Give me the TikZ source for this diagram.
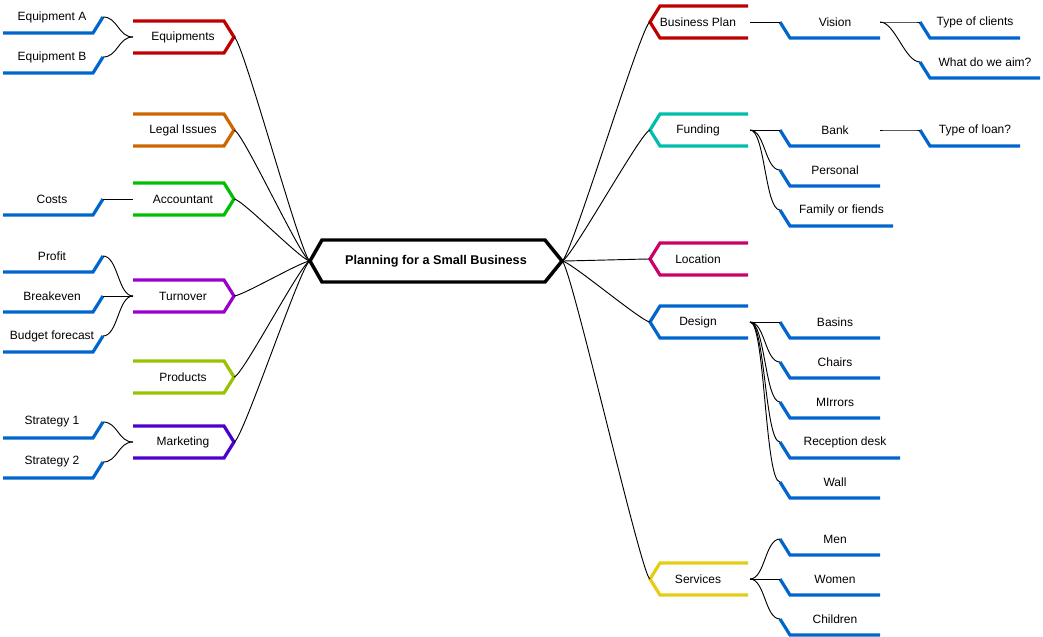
\documentclass[tikz,border=0pt]{standalone}
\usepackage{fontspec}
\setmainfont{Liberation Sans}
\usetikzlibrary{arrows}
\definecolor{cRed}{RGB}{192,0,0}
\definecolor{cOrange}{RGB}{204,102,0}
\definecolor{cGreen}{RGB}{0,190,0}
\definecolor{cPurple}{RGB}{153,0,204}
\definecolor{cLime}{RGB}{153,194,0}
\definecolor{cIndigo}{RGB}{76,0,204}
\definecolor{cTeal}{RGB}{0,190,170}
\definecolor{cMagenta}{RGB}{204,0,102}
\definecolor{cBlue}{RGB}{0,102,204}
\definecolor{cYellow}{RGB}{230,204,20}
\tikzstyle{lbl} = [inner sep=1pt, font=\fontsize{9}{10}\selectfont]
\tikzstyle{cat} = [line width=2.4pt]
\tikzstyle{leaf} = [line width=2.4pt, cBlue]
\tikzstyle{link} = [line width=0.7pt]
% left category: name, y, colour, text
\newcommand{\lcat}[4]{%
  \draw[cat, #3] (133,#2-16) -- (224,#2-16) -- (234,#2) -- (224,#2+16) -- (133,#2+16);
  \node[lbl] (#1) at (183,#2) {#4};
  \coordinate (#1-in) at (234,#2); \coordinate (#1-out) at (133,#2);}
% right category: name, y, colour, text
\newcommand{\rcat}[4]{%
  \draw[cat, #3] (748,#2-16) -- (660,#2-16) -- (650,#2) -- (660,#2+16) -- (748,#2+16);
  \node[lbl] (#1) at (698,#2) {#4};
  \coordinate (#1-in) at (650,#2); \coordinate (#1-out) at (750,#2);}
% left leaf: name, y, text
\newcommand{\lleaf}[3]{%
  \draw[leaf] (3,#2+16) -- (93,#2+16) -- (103,#2);
  \node[lbl] (#1) at (52,#2) {#3};
  \coordinate (#1-in) at (103,#2);}
% right leaf: name, x0, x1, y, text
\newcommand{\rleaf}[5]{%
  \draw[leaf] (#2,#4) -- (#2+10,#4+16) -- (#3,#4+16);
  \node[lbl] (#1) at ({(#2+10+#3)/2},#4) {#5};
  \coordinate (#1-in) at (#2,#4); \coordinate (#1-out) at (#3,#4);}
\newcommand{\lnk}[2]{\draw[link] (#1) .. controls +(15,0) and +(-15,0) .. (#2);}
\newcommand{\clnk}[2]{\draw[link] (#1) .. controls +(8,0) and +(-8,0) .. (#2);}

\begin{document}
\begin{tikzpicture}[x=0.75pt, y=-0.75pt]
\useasboundingbox (0,0) rectangle (1043,636);
% centre
\draw[line width=2.6pt, line join=miter] (310,261) -- (322,240) -- (545,240) -- (562,261) -- (545,282) -- (322,282) -- cycle;
\node[lbl, font=\fontsize{9.5}{10}\selectfont\bfseries] (main) at (436,261) {Planning for a Small Business};
\coordinate (main-l) at (310,261); \coordinate (main-r) at (562,261);
% left side
\lcat{equip}{37}{cRed}{Equipments}
\lcat{legal}{130}{cOrange}{Legal Issues}
\lcat{acct}{199}{cGreen}{Accountant}
\lcat{turn}{296}{cPurple}{Turnover}
\lcat{prod}{377}{cLime}{Products}
\lcat{mark}{442}{cIndigo}{Marketing}
\foreach \c in {equip,legal,acct,turn,prod,mark} {\clnk{\c-in}{main-l}}
\lleaf{eqa}{17}{Equipment A}
\lleaf{eqb}{57}{Equipment B}
\lleaf{costs}{199}{Costs}
\lleaf{profit}{256}{Profit}
\lleaf{breakeven}{296}{Breakeven}
\lleaf{budget}{336}{Budget forecast}
\lleaf{str1}{422}{Strategy 1}
\lleaf{str2}{462}{Strategy 2}
\foreach \a/\b in {eqa/equip,eqb/equip,costs/acct,profit/turn,breakeven/turn,budget/turn,str1/mark,str2/mark} {\lnk{\a-in}{\b-out}}
% right side
\rcat{plan}{22}{cRed}{Business Plan}
\rcat{fund}{130}{cTeal}{Funding}
\rcat{loc}{259}{cMagenta}{Location}
\rcat{design}{322}{cBlue}{Design}
\rcat{serv}{579}{cYellow}{Services}
\foreach \c in {plan,fund,loc,design,serv} {\clnk{main-r}{\c-in}}
\rleaf{vision}{780}{880}{22}{Vision}
\rleaf{clients}{920}{1020}{22}{Type of clients}
\rleaf{aim}{920}{1040}{62}{What do we aim?}
\rleaf{bank}{780}{880}{130}{Bank}
\rleaf{loan}{920}{1020}{130}{Type of loan?}
\rleaf{personal}{780}{880}{170}{Personal}
\rleaf{family}{780}{893}{210}{Family or fiends}
\rleaf{basins}{780}{880}{322}{Basins}
\rleaf{chairs}{780}{880}{362}{Chairs}
\rleaf{mirrors}{780}{880}{402}{MIrrors}
\rleaf{reception}{780}{900}{442}{Reception desk}
\rleaf{wall}{780}{880}{482}{Wall}
\rleaf{men}{780}{880}{539}{Men}
\rleaf{women}{780}{880}{579}{Women}
\rleaf{children}{780}{880}{619}{Children}
\foreach \a/\b in {plan-out/vision-in,vision-out/clients-in,vision-out/aim-in,fund-out/bank-in,bank-out/loan-in,fund-out/personal-in,fund-out/family-in,design-out/basins-in,design-out/chairs-in,design-out/mirrors-in,design-out/reception-in,design-out/wall-in,serv-out/men-in,serv-out/women-in,serv-out/children-in} {\lnk{\a}{\b}}
\end{tikzpicture}
\end{document}
